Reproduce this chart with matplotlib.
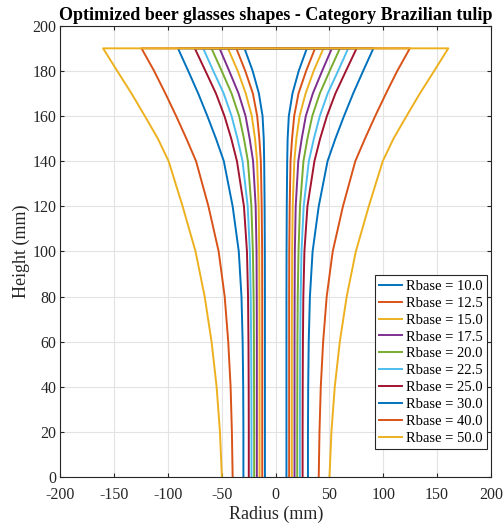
import numpy as np
import matplotlib
matplotlib.use("Agg")
import matplotlib.pyplot as plt

plt.rcParams['font.family'] = ['Liberation Serif', 'DejaVu Serif']
plt.rcParams['axes.unicode_minus'] = False

# heights where the profiles were read (mm)
heights = [0, 20, 40, 60, 80, 100, 120, 140, 150, 160, 170, 180, 190]

# base radii of the glasses (mm)
rbase = [10.0, 12.5, 15.0, 17.5, 20.0, 22.5, 25.0, 30.0, 40.0, 50.0]

# radius of each glass at the heights above
r_10 = [10, 10, 10, 10, 10, 10.1, 10.3, 10.7, 11.1, 12.2, 15.6, 21.4, 29.0]
r_125 = [12.5, 12.5, 12.5, 12.5, 12.5, 12.6, 13.0, 13.8, 15.2, 17.2, 21.2, 28.3, 36.6]
r_15 = [15, 15, 15, 15, 15.1, 15.3, 15.8, 17.3, 19.2, 22.2, 27.8, 35.3, 44.4]
r_175 = [17.5, 17.5, 17.5, 17.5, 17.6, 17.8, 18.6, 21.0, 24.2, 28.0, 34.5, 43.2, 52.2]
r_20 = [20, 20, 20.1, 20.2, 20.5, 21.2, 22.6, 25.8, 29.5, 34.0, 41.0, 50.2, 59.7]
r_225 = [22.5, 22.5, 22.6, 22.8, 23.2, 24.0, 26.0, 30.8, 35.5, 41.0, 48.3, 58.0, 67.4]
r_25 = [25, 25, 25.1, 25.3, 25.7, 26.7, 29.5, 36.0, 41.3, 47.6, 55.5, 65.3, 75.2]
r_30 = [30, 30, 30.2, 30.7, 31.8, 34.3, 40.0, 48.2, 55.5, 63.5, 72.0, 81.3, 90.8]
r_40 = [40, 40.7, 41.9, 44.1, 47.4, 53.0, 62.5, 74.0, 83.0, 92.5, 102.5, 113.0, 124.7]
r_50 = [50, 51.8, 54.9, 59.6, 66.0, 74.5, 86.5, 99.5, 109.5, 121.6, 134.0, 147.3, 160.4]

profiles = [r_10, r_125, r_15, r_175, r_20, r_225, r_25, r_30, r_40, r_50]

colors = ['#0072BD', '#D95319', '#EDB120', '#7E2F8E', '#77AC30',
          '#4DBEEE', '#A2142F', '#0072BD', '#D95319', '#EDB120']

fig = plt.figure(figsize=(5.04, 5.26), dpi=100)
ax = fig.add_axes([0.120, 0.093, 0.854, 0.858])

h = np.array(heights)
for rb, prof, c in zip(rbase, profiles, colors):
    r = np.array(prof)
    # left wall going up, across the rim, right wall going down
    x = np.concatenate([-r, r[::-1]])
    y = np.concatenate([h, h[::-1]])
    ax.plot(x, y, color=c, lw=1.4, label=f"Rbase = {rb:.1f}")

ax.set_xlim(-200, 200)
ax.set_ylim(0, 200)
ax.set_xticks(np.arange(-200, 201, 50))
ax.set_yticks(np.arange(0, 201, 20))
ax.grid(True, color='#e3e3e3', lw=0.8)
ax.set_axisbelow(True)
for s in ax.spines.values():
    s.set_color('#262626')
    s.set_linewidth(0.8)
ax.tick_params(direction='in', top=True, right=True, length=3, labelsize=11.5,
               colors='#262626', labelcolor='#262626')
ax.tick_params(axis='x', pad=7)
ax.tick_params(axis='y', pad=3)

ax.set_xlabel("Radius (mm)", fontsize=13, color='#262626', labelpad=2)
ax.set_ylabel("Height (mm)", fontsize=13, color='#262626', labelpad=2)
ax.set_title("Optimized beer glasses shapes - Category Brazilian tulip",
             fontsize=13, fontweight='bold', pad=4)

leg = ax.legend(loc='lower right', bbox_to_anchor=(0.9914, 0.062),
                fontsize=10.5, handlelength=1.6, handletextpad=0.25,
                labelspacing=0.25, borderpad=0.3, borderaxespad=0,
                fancybox=False, framealpha=1)
leg.get_frame().set_edgecolor('#262626')
leg.get_frame().set_linewidth(0.8)

fig.savefig("out.png", dpi=100)
